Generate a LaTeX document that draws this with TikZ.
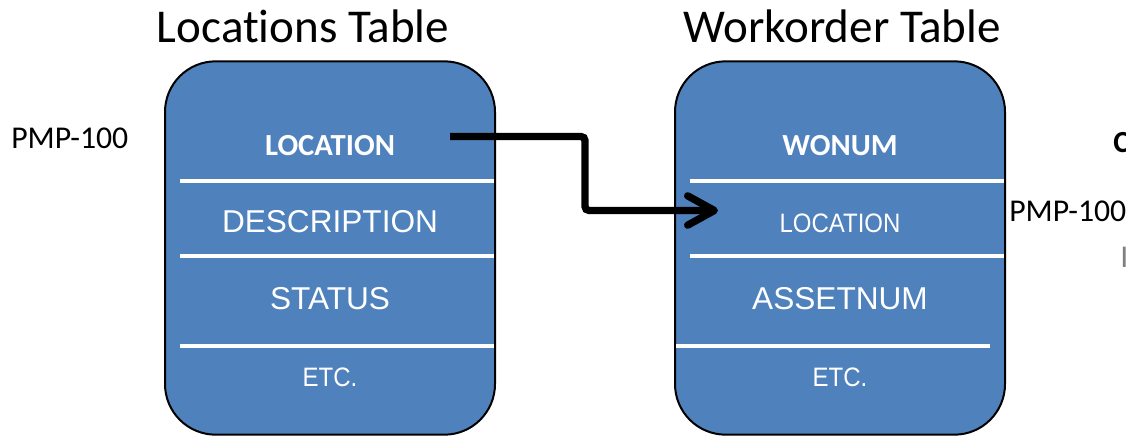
\documentclass[tikz,border=0pt]{standalone}
\usepackage{fontspec}
\setmainfont[Ligatures={NoCommon}]{Carlito}
\newfontfamily\arialfont{Liberation Sans}
\newfontfamily\narrowfont[FakeStretch=0.9]{Liberation Sans}
\usetikzlibrary{arrows.meta}
\definecolor{tableblue}{HTML}{4F81BD}
\tikzset{
    tablebox/.style={draw=black, line width=1.5pt, fill=tableblue,
        rounded corners=38pt, minimum width=247.5pt, minimum height=280pt,
        inner sep=0pt},
    divider/.style={draw=white, line width=3pt},
    tabletitle/.style={anchor=base, inner sep=0pt,
        font=\fontsize{35.3}{40}\selectfont},
    keyfield/.style={anchor=base, inner sep=0pt, text=white,
        font=\fontsize{23}{27}\selectfont\bfseries},
    bigfield/.style={anchor=base, inner sep=0pt, text=white,
        font=\arialfont\fontsize{23.7}{28}\selectfont},
    smallfield/.style={anchor=base, inner sep=0pt, text=white,
        font=\narrowfont\fontsize{20}{24}\selectfont},
    sidelabel/.style={anchor=base west, inner sep=0pt,
        font=\fontsize{23.8}{28}\selectfont},
    link/.style={line width=5.5pt, rounded corners=3pt,
        -{Straight Barb[length=20pt, width=22pt, round]}}
}
\begin{document}
\begin{tikzpicture}[x=0.75pt, y=-0.75pt]
    \useasboundingbox (0, 0) rectangle (1126, 436);
    \node [tablebox] (loctab) at (330, 248) {};
    \node [tablebox] (wotab) at (840, 248) {};
    \node [tabletitle] (loctitle) at (303, 42) {Locations Table};
    \node [tabletitle] (wotitle) at (842, 42) {Workorder Table};
    \draw [divider] (180, 181) -- (494, 181);
    \draw [divider] (180, 256) -- (494, 256);
    \draw [divider] (180, 346) -- (494, 346);
    \draw [divider] (690, 181) -- (1004, 181);
    \draw [divider] (690, 256) -- (1004, 256);
    \draw [divider] (676, 346) -- (990, 346);
    \node [keyfield] (lockey) at (330, 155) {LOCATION};
    \node [bigfield] (locdesc) at (330, 232) {DESCRIPTION};
    \node [bigfield] (locstatus) at (330, 309) {STATUS};
    \node [smallfield] (locetc) at (330, 386) {ETC.};
    \node [keyfield] (wokey) at (840, 155) {WONUM};
    \node [smallfield] (woloc) at (840, 232) {LOCATION};
    \node [bigfield] (woasset) at (840, 309) {ASSETNUM};
    \node [smallfield] (woetc) at (840, 386) {ETC.};
    \node [sidelabel] (leftpmp) at (11, 148) {PMP-100};
    \node [sidelabel] (rightpmp) at (1009, 221) {PMP-100};
    \node [sidelabel, font=\fontsize{23}{27}\selectfont\bfseries] (rightcut) at (1113, 152) {C};
    \node [sidelabel, text=gray] (rightbar) at (1120, 267) {I};
    \coordinate (from) at (450, 136.5);
    \coordinate (bend) at (585, 0);
    \coordinate (to) at (718, 210.5);
    \draw [link] (from) -- (from -| bend) |- (to);
\end{tikzpicture}
\end{document}
